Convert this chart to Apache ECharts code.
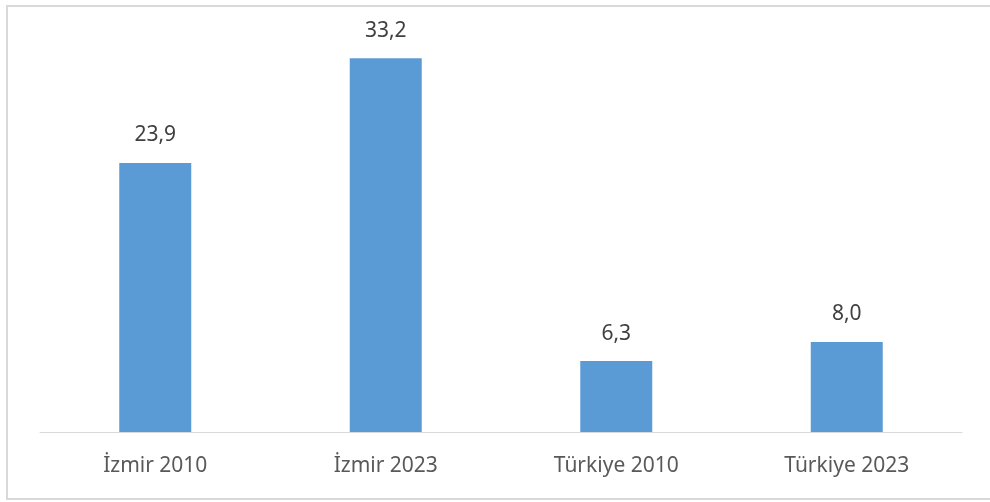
<!DOCTYPE html>
<html>
<head>
<meta charset="utf-8">
<script src="https://cdn.jsdelivr.net/npm/echarts@6/dist/echarts.min.js"></script>
<style>
  html, body { margin: 0; padding: 0; background: #fff; }
  #chart { width: 990px; height: 502px; }
</style>
</head>
<body>
<div id="chart"></div>
<script>
// veriler
var categories = ['İzmir 2010', 'İzmir 2023', 'Türkiye 2010', 'Türkiye 2023'];
var values = [23.9, 33.2, 6.3, 8.0];

var myChart = echarts.init(document.getElementById('chart'));

var option = {
  animation: false,
  backgroundColor: '#fff',
  textStyle: { fontFamily: 'Noto Sans' },
  graphic: [{
    type: 'rect',
    shape: { x: 7, y: 6, width: 1010, height: 493 },
    style: { fill: 'none', stroke: '#d9d9d9', lineWidth: 2 },
    silent: true
  }],
  grid: { left: 40, right: 28, top: 38, bottom: 70 },
  xAxis: {
    type: 'category',
    data: categories,
    axisTick: { show: false },
    axisLine: { lineStyle: { color: '#d9d9d9', width: 1 } },
    axisLabel: { color: '#595959', fontSize: 21, margin: 24 }
  },
  yAxis: {
    type: 'value',
    min: 0,
    max: 35,
    show: false,
    splitLine: { show: false }
  },
  series: [{
    type: 'bar',
    data: values,
    barWidth: 72,
    itemStyle: { color: '#5b9bd5' },
    label: {
      show: true,
      position: 'top',
      distance: 17,
      color: '#404040',
      fontSize: 21,
      formatter: function (p) { return p.value.toFixed(1).replace('.', ','); }
    }
  }]
};

myChart.setOption(option);
</script>
</body>
</html>
